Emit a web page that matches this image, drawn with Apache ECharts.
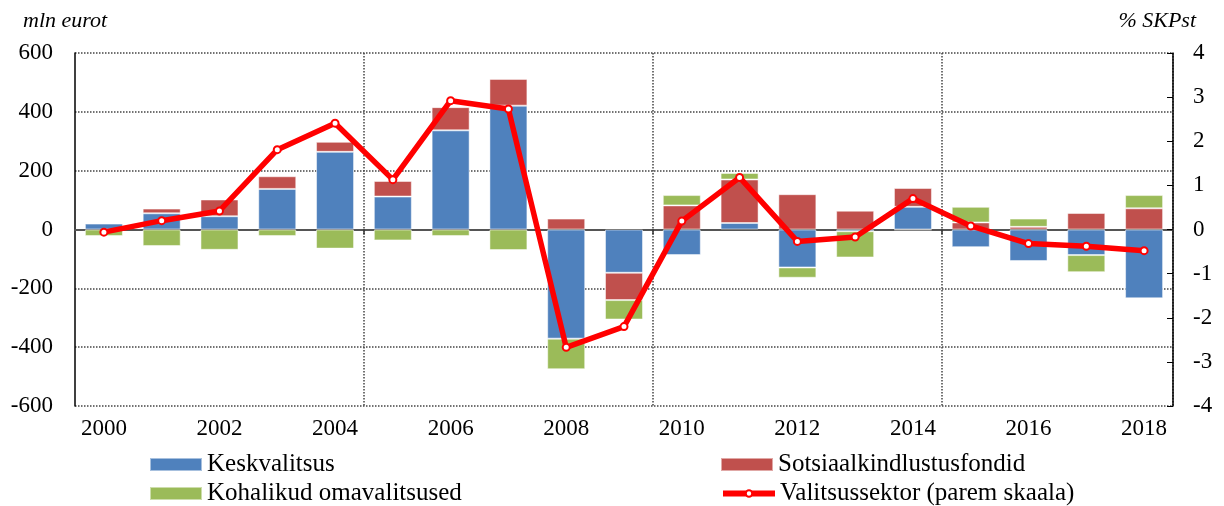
<!DOCTYPE html>
<html>
<head>
    <meta charset="utf-8">
    <title>Valitsussektori eelarvepositsioon</title>
    <script src="https://cdn.jsdelivr.net/npm/echarts@6/dist/echarts.min.js"></script>
    <style>
        body { margin: 0; background: #fff; }
    </style>
</head>
<body>
    <div id="myChart" style="width: 1224px;height:506px;"></div>
    <script>
        var years = ['2000', '2001', '2002', '2003', '2004', '2005', '2006', '2007', '2008', '2009',
                     '2010', '2011', '2012', '2013', '2014', '2015', '2016', '2017', '2018'];
        // mln eurot
        var keskvalitsus = [20, 55, 45, 138, 264, 112, 337, 421, -371, -147,
                            -87, 22, -129, -6, 77, -60, -107, -87, -234];
        var sotsiaal = [2, 16, 57, 43, 34, 53, 79, 91, 37, -93,
                        82, 148, 120, 64, 64, 24, 9, 56, 72];
        var kohalikud = [-22, -56, -69, -22, -65, -37, -22, -70, -104, -66,
                         35, 22, -35, -89, -2, 53, 28, -58, 45];
        // % SKPst (parem skaala)
        var valitsussektor = [-0.06, 0.2, 0.42, 1.81, 2.41, 1.13, 2.92, 2.73, -2.67, -2.2,
                              0.19, 1.18, -0.27, -0.17, 0.7, 0.08, -0.32, -0.38, -0.48];

        var myChart = echarts.init(document.getElementById('myChart'));
        var font = 'Liberation Serif';
        var legendText = { fontFamily: font, fontSize: 25, color: '#000' };

        function legendAt(name, left, top, icon, h) {
            return {
                data: [{ name: name, icon: icon }], left: left, top: top, itemWidth: 52, itemHeight: h,
                itemGap: 6, padding: 0, textStyle: legendText, selectedMode: false,
                lineStyle: { width: 6 }
            };
        }

        function barSeries(name, data, color) {
            return {
                name: name, type: 'bar', stack: 'total', data: data, barWidth: 38,
                itemStyle: { color: color, borderColor: 'rgba(255,255,255,0.5)', borderWidth: 1 }
            };
        }

        var boundary = function (index) { return index === 5 || index === 10 || index === 15; };

        var option = {
            animation: false,
            grid: { left: 75, right: 51, top: 53, bottom: 100 },
            legend: [
                legendAt('Keskvalitsus', 149, 452, 'rect', 13),
                legendAt('Sotsiaalkindlustusfondid', 720, 452, 'rect', 13),
                legendAt('Kohalikud omavalitsused', 149, 481, 'rect', 13),
                legendAt('Valitsussektor (parem skaala)', 720, 481, undefined, 8)
            ],
            graphic: [
                { type: 'text', left: 23, top: 10, style: { text: 'mln eurot', fontFamily: font, fontStyle: 'italic', fontSize: 22, fill: '#000' } },
                { type: 'text', right: 28, top: 10, style: { text: '% SKPst', fontFamily: font, fontStyle: 'italic', fontSize: 22, fill: '#000' } }
            ],
            xAxis: [{
                type: 'category',
                data: years,
                axisLine: { show: false },
                axisTick: { show: false },
                axisLabel: { interval: 1, fontFamily: font, fontSize: 23, color: '#000', margin: 11 },
                splitLine: {
                    show: true,
                    interval: boundary,
                    lineStyle: { type: 'dotted', color: '#444', width: 1.5 }
                }
            }, {
                type: 'category',
                data: years,
                position: 'bottom',
                axisLine: { show: true, onZero: true, onZeroAxisIndex: 0, lineStyle: { color: '#555', width: 2 } },
                axisTick: { show: true, interval: boundary, length: 5, lineStyle: { color: '#333', width: 1.5 } },
                axisLabel: { show: false },
                splitLine: { show: false }
            }],
            yAxis: [{
                type: 'value',
                min: -600, max: 600, interval: 200,
                axisLine: { show: true, lineStyle: { color: '#000', width: 1.5 } },
                axisTick: { show: false },
                axisLabel: { fontFamily: font, fontSize: 23, color: '#000', margin: 22 },
                splitLine: { show: true, lineStyle: { type: 'dotted', color: '#444', width: 1.5 } }
            }, {
                type: 'value',
                min: -4, max: 4, interval: 1,
                axisLine: { show: true, lineStyle: { color: '#000', width: 1.5 } },
                axisTick: { show: true, inside: true, length: 6, lineStyle: { color: '#000' } },
                axisLabel: { fontFamily: font, fontSize: 23, color: '#000', margin: 20 },
                splitLine: { show: false }
            }],
            series: [
                barSeries('Keskvalitsus', keskvalitsus, '#4F81BD'),
                barSeries('Sotsiaalkindlustusfondid', sotsiaal, '#C0504D'),
                barSeries('Kohalikud omavalitsused', kohalikud, '#9BBB59'),
                {
                    name: 'Valitsussektor (parem skaala)',
                    type: 'line',
                    yAxisIndex: 1,
                    data: valitsussektor,
                    z: 5,
                    symbol: 'circle',
                    symbolSize: 7,
                    lineStyle: { color: '#FF0000', width: 5.5 },
                    itemStyle: { color: '#FFFFFF', borderColor: '#FF0000', borderWidth: 2 }
                }
            ]
        };
        myChart.setOption(option);
    </script>
</body>
</html>
